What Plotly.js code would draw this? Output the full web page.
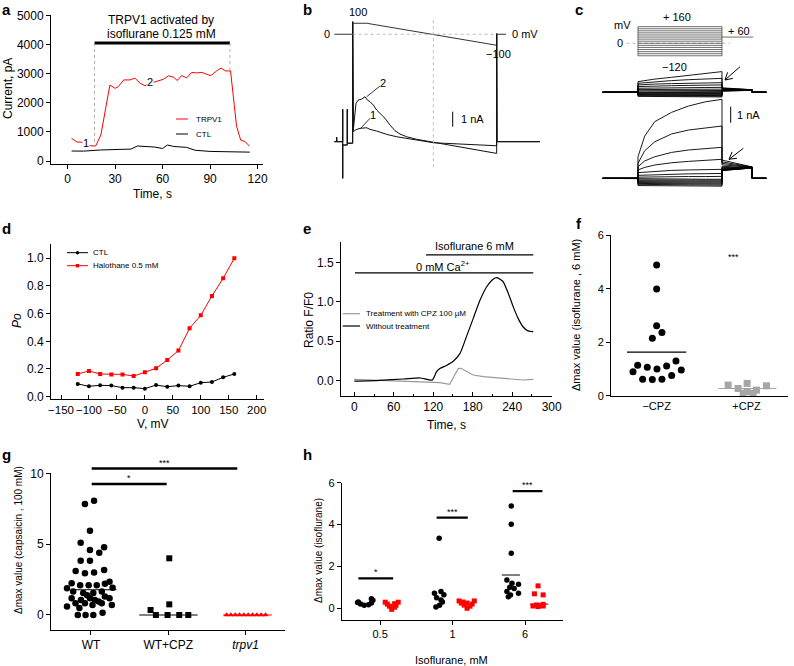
<!DOCTYPE html>
<html>
<head>
<meta charset="utf-8">
<script src="https://cdn.plot.ly/plotly-3.0.1.min.js"></script>
<style>
  body { margin: 0; background: #fff; }
  #fig { width: 794px; height: 666px; }
</style>
</head>
<body>
<div id="fig"></div>
<script>
// ---------- a: current vs time ----------
var aTrpv1T = [2.5, 6, 8.5, 13.7, 17.7, 21, 26.7, 30, 32, 35.5, 39.3, 42.5, 45.7, 48.8, 52.5, 56.2, 60.4, 63.6, 66.7, 69.3, 72, 75.2, 78.4, 81.6, 84.8, 87.9, 90.5, 93.9, 96.9, 99.7, 102.9, 106.7, 109.3, 112, 114.8];
var aTrpv1I = [780, 650, 650, 528, 516, 895, 2615, 2500, 2560, 2790, 2790, 2850, 2680, 2590, 2680, 2730, 2810, 2930, 2890, 2770, 2940, 2860, 3050, 3030, 3050, 2980, 2940, 3090, 3200, 3100, 3100, 1200, 720, 670, 515];
var aCtlT = [2.5, 10, 21, 30, 40, 44, 51, 55, 60, 63, 67, 75, 80.5, 90, 100, 115];
var aCtlI = [344, 340, 380, 400, 410, 516, 493, 480, 430, 550, 500, 470, 370, 330, 320, 305];

// ---------- b: ramp protocol and currents ----------
var bVoltT = [-55, 0, 0, 42, 432, 432, 460];
var bVoltV = [0, 0, 100, 100, -100, 0, 0];
var bPreT = [-55, -48, -48, -48, -30, -30, -30, -30, -16, -16, -16];
var bPreI = [0, 0, 0.29, 0, 0, 2.16, -2.44, -0.22, -0.22, 2.16, -0.1];
var bT1 = [0, 0, 2, 10, 22, 42, 52, 72, 102, 132, 172, 212, 242, 432, 432, 433, 562];
var bI1 = [-0.1, 8.0, 0.67, 0.8, 0.89, 0.93, 0.82, 0.71, 0.49, 0.33, 0.16, 0.04, -0.07, -0.27, 7.2, 0, 0];
var bT2 = [0, 0, 2, 10, 17, 27, 37, 44, 52, 62, 72, 87, 97, 112, 127, 142, 162, 192, 222, 242, 432, 432, 433, 562];
var bI2 = [-0.1, 8.0, 0.78, 2.56, 2.78, 2.84, 3.0, 2.78, 2.67, 2.44, 2.11, 1.78, 1.56, 1.11, 0.73, 0.51, 0.33, 0.16, 0.04, -0.04, -0.78, 7.2, 0, 0];

// ---------- c: step family ----------
var cLevels = [160, 140, 120, 100, 80, 60, 40, 20, 0, -20, -40, -60, -80, -100, -120];
var cStepT = [0, 250];
var cTailT = [250, 343];
var cTailV = 60;
var cZeroT = [-34, 274];
var cT = [0, 20, 50, 100, 150, 200, 250];
var cCtl = [
  [0.71, 0.78, 0.88, 1.00, 1.12, 1.25, 1.38],
  [0.60, 0.64, 0.70, 0.78, 0.84, 0.89, 0.93],
  [0.49, 0.52, 0.55, 0.58, 0.60, 0.62, 0.64],
  [0.38, 0.40, 0.42, 0.44, 0.46, 0.48, 0.49],
  [0.27, 0.28, 0.29, 0.30, 0.31, 0.32, 0.33],
  [0.18, 0.18, 0.19, 0.19, 0.20, 0.20, 0.21],
  [0.10, 0.10, 0.11, 0.11, 0.11, 0.12, 0.12],
  [0.04, 0.04, 0.04, 0.05, 0.05, 0.05, 0.05],
  [-0.02, -0.02, -0.02, -0.02, -0.02, -0.02, -0.02],
  [-0.07, -0.07, -0.07, -0.08, -0.08, -0.08, -0.08],
  [-0.11, -0.11, -0.12, -0.12, -0.12, -0.13, -0.13],
  [-0.15, -0.15, -0.16, -0.16, -0.17, -0.17, -0.17],
  [-0.19, -0.19, -0.20, -0.20, -0.21, -0.21, -0.22],
  [-0.23, -0.23, -0.24, -0.24, -0.25, -0.26, -0.26],
  [-0.27, -0.27, -0.28, -0.29, -0.29, -0.30, -0.31]
];
var cCtlTail0 = [0.30, 0.27, 0.25, 0.22, 0.20, 0.18, 0.17, 0.16, 0.14, 0.13, 0.12, 0.11, 0.10, 0.09, 0.08];
var cCtlTail1 = [0.17, 0.17, 0.16, 0.16, 0.16, 0.15, 0.15, 0.15, 0.15, 0.14, 0.14, 0.14, 0.14, 0.13, 0.13];
var cHal = [
  [1.44, 2.82, 3.78, 4.40, 4.82, 5.10, 5.27],
  [1.00, 1.84, 2.44, 2.96, 3.22, 3.36, 3.49],
  [0.78, 1.16, 1.44, 1.73, 1.89, 1.98, 2.07],
  [0.56, 0.73, 0.89, 1.04, 1.13, 1.20, 1.27],
  [0.38, 0.42, 0.47, 0.53, 0.56, 0.58, 0.60],
  [0.20, 0.22, 0.25, 0.28, 0.30, 0.31, 0.33],
  [0.08, 0.09, 0.10, 0.11, 0.12, 0.12, 0.13],
  [-0.04, -0.04, -0.05, -0.05, -0.05, -0.06, -0.06],
  [-0.10, -0.10, -0.11, -0.11, -0.12, -0.12, -0.12],
  [-0.16, -0.16, -0.17, -0.17, -0.18, -0.18, -0.19],
  [-0.22, -0.22, -0.23, -0.24, -0.24, -0.25, -0.25],
  [-0.28, -0.28, -0.29, -0.30, -0.30, -0.31, -0.32],
  [-0.34, -0.34, -0.35, -0.36, -0.37, -0.37, -0.38],
  [-0.40, -0.41, -0.42, -0.43, -0.43, -0.44, -0.45],
  [-0.48, -0.48, -0.49, -0.50, -0.51, -0.52, -0.52]
];
var cHalTail0 = [1.22, 1.10, 1.00, 0.90, 0.80, 0.72, 0.66, 0.62, 0.60, 0.58, 0.56, 0.55, 0.54, 0.53, 0.52];
var cHalTail1 = [0.76, 0.75, 0.74, 0.74, 0.73, 0.73, 0.72, 0.72, 0.71, 0.71, 0.70, 0.70, 0.70, 0.69, 0.69];

// ---------- d: Po vs V ----------
var dV = [-120, -100, -80, -60, -40, -20, 0, 20, 40, 60, 80, 100, 120, 140, 160];
var dCtl = [0.092, 0.075, 0.082, 0.080, 0.065, 0.065, 0.058, 0.084, 0.072, 0.080, 0.075, 0.101, 0.106, 0.140, 0.164];
var dHalo = [0.164, 0.186, 0.164, 0.161, 0.161, 0.149, 0.176, 0.205, 0.265, 0.333, 0.494, 0.588, 0.728, 0.855, 1.0];

// ---------- e: calcium imaging ----------
var eWithoutT = [0, 39, 75, 100, 118.5, 125, 130, 140, 150, 160.5, 170.6, 180.8, 191, 201, 211, 217, 226, 234, 241.5, 249, 256.7, 264, 272];
var eWithout = [-0.01, 0, 0.017, 0.03, 0.004, 0.11, 0.15, 0.19, 0.24, 0.34, 0.56, 0.79, 1.02, 1.19, 1.29, 1.31, 1.26, 1.11, 0.94, 0.79, 0.68, 0.63, 0.62];
var eCpzT = [0, 39, 84.6, 115, 130, 145, 158, 162, 170.6, 180.8, 196, 216, 236.5, 256.7, 272];
var eCpz = [0.013, 0, -0.01, -0.017, -0.03, -0.05, 0.15, 0.153, 0.11, 0.068, 0.047, 0.034, 0.025, 0.004, 0.013];

// ---------- f: isoflurane 6 mM +/- CPZ ----------
var fCats = ['\u2212CPZ', '+CPZ'];
var fMinusVals = [4.89, 3.99, 2.62, 2.36, 2.15, 1.30, 1.14, 1.06, 1.11, 1.00, 0.96, 0.90, 0.76, 0.62, 0.61, 0.62];
var fMinusOff = [0, 0, 0, 0.059, -0.048, 0.215, -0.211, -0.104, 0.111, 0.004, 0.274, -0.263, 0.167, -0.156, -0.048, 0.059];
var fPlusVals = [0.40, 0.27, 0.46, 0.15, 0.21, 0.37, 0.09, 0.09];
var fPlusOff = [-0.204, -0.093, 0.007, 0.007, 0.111, 0.222, -0.037, 0.074];
var fMeans = [1.63, 0.27];

// ---------- g: capsaicin ----------
var gCats = ['WT', 'WT+CPZ', '<i>trpv1</i>'];
var gWtVals = [8.07, 7.83, 5.95, 5.10, 4.78, 4.59, 4.40, 3.83, 3.83, 3.18, 3.10, 3.00, 2.94, 2.35, 2.24, 2.20, 2.10, 2.10, 2.10, 1.92, 1.88, 1.65, 1.65, 1.55, 1.55, 1.40, 1.30, 1.18, 1.18, 1.18, 1.06, 1.06, 0.95, 0.82, 0.82, 0.82, 0.71, 0.71, 0.59, 0.50, 0.16, 0, 0, 0];
var gWtOff = [0.04, -0.078, -0.013, -0.133, 0.17, -0.013, 0.107, -0.133, -0.013, 0.17, -0.198, 0.04, -0.078, 0.24, -0.25, 0.18, -0.14, -0.03, 0.075, 0.28, -0.31, -0.23, 0.14, -0.1, 0.03, -0.05, 0.18, -0.25, -0.013, 0.24, -0.13, 0.05, 0.1, -0.2, -0.078, 0.14, 0.02, 0.27, -0.31, -0.15, 0.15, -0.17, -0.07, 0.03];
var gCpzVals = [4.0, 0.75, 0.35, 0, 0, 0, 0];
var gCpzOff = [0.013, 0.013, -0.229, -0.16, -0.009, 0.142, 0.259];
var gTrpVals = [0, 0, 0, 0, 0, 0, 0, 0, 0, 0];
var gTrpOff = [-0.246, -0.19, -0.134, -0.078, -0.022, 0.034, 0.09, 0.146, 0.202, 0.258];
var gMeans = [1.78, 0, 0];
var gSigY = [10.33, 9.25];
var gSigText = ['***', '*'];

// ---------- h: isoflurane dose ----------
var hCats = ['0.5', '1', '6'];
var hWtCat = [0, 0, 0, 0, 0, 0, 0, 0, 1, 1, 1, 1, 1, 1, 1, 1, 1, 2, 2, 2, 2, 2, 2, 2, 2, 2, 2, 2, 2];
var hWtVals = [0.28, 0.20, 0.15, 0.17, 0.25, 0.38, 0.46, 0.30, 3.35, 0.72, 0.80, 0.65, 0.50, 0.40, 0.30, 0.14, 0.06, 4.89, 4.02, 2.63, 1.35, 1.20, 1.15, 1.00, 0.95, 0.80, 0.63, 0.72, 0.55];
var hWtOff = [-0.31, -0.27, -0.22, -0.16, -0.12, -0.10, -0.12, -0.30, -0.185, -0.25, -0.16, -0.12, -0.22, -0.16, -0.14, -0.18, -0.23, -0.19, -0.19, -0.19, -0.25, -0.18, -0.09, -0.21, -0.15, -0.25, -0.20, -0.09, -0.23];
var hRedCat = [0, 0, 0, 0, 0, 0, 0, 0, 1, 1, 1, 1, 1, 1, 1, 1, 1, 2, 2, 2, 2, 2, 2, 2, 2, 2];
var hRedVals = [0.29, 0.20, 0.10, -0.05, 0.05, 0.15, 0.29, 0.22, 0.35, 0.25, 0.15, 0.00, 0.10, 0.20, 0.35, 0.25, 0.30, 1.07, 0.69, 0.64, 0.11, 0.08, 0.11, 0.16, 0.19, 0.13];
var hRedOff = [0.07, 0.10, 0.13, 0.16, 0.20, 0.22, 0.25, 0.20, 0.09, 0.12, 0.16, 0.20, 0.24, 0.27, 0.30, 0.20, 0.14, 0.18, 0.13, 0.25, 0.11, 0.18, 0.25, 0.16, 0.25, 0.21];
var hMeanCat = [2];
var hMeanWt = [1.59];
var hMeanRed = [0.2];
var hSigY = [1.43, 4.33, 5.6];
var hSigText = ['*', '***', '***'];

// ---------- helpers ----------
var W = 794, H = 666;
var FONT = 'Liberation Sans, Arial, Helvetica, sans-serif';
function fx(p) { return p / W; }
function fy(p) { return 1 - p / H; }
function xdom(l, r) { return [fx(l), fx(r)]; }
function ydom(t, b) { return [fy(b), fy(t)]; }
function fnt(s) { return {family: FONT, size: s, color: '#000'}; }
function ax(o) {
  var base = {showline: true, linecolor: '#000', linewidth: 1, ticks: 'outside', ticklen: 4,
    tickwidth: 1, tickcolor: '#000', showgrid: false, zeroline: false, fixedrange: true,
    tickangle: 0, tickfont: fnt(11)};
  for (var k in o) base[k] = o[k];
  return base;
}
function hid(o) {
  var base = {visible: false, fixedrange: true, showgrid: false, zeroline: false};
  for (var k in o) base[k] = o[k];
  return base;
}
function note(x, y, text, o) {
  var a = {xref: 'paper', yref: 'paper', x: fx(x), y: fy(y), text: text, showarrow: false,
    xanchor: 'center', yanchor: 'middle', font: fnt(11)};
  for (var k in o) a[k] = o[k];
  return a;
}
function pline(x0, y0, x1, y1, color, width, dash) {
  return {type: 'line', xref: 'paper', yref: 'paper', x0: fx(x0), y0: fy(y0), x1: fx(x1), y1: fy(y1),
    line: {color: color || '#000', width: width || 1, dash: dash || 'solid'}};
}
function dline(xr, yr, x0, y0, x1, y1, color, width, dash) {
  return {type: 'line', xref: xr, yref: yr, x0: x0, y0: y0, x1: x1, y1: y1,
    line: {color: color || '#000', width: width || 1, dash: dash || 'solid'}};
}
// open arrow drawn as a path, tail -> head, in page pixels
function arrow(tx, ty, hx, hy) {
  var dx = hx - tx, dy = hy - ty, L = Math.sqrt(dx * dx + dy * dy);
  var ux = dx / L, uy = dy / L, px = -uy, py = ux;
  var w1x = hx - 7 * ux + 4 * px, w1y = hy - 7 * uy + 4 * py;
  var w2x = hx - 7 * ux - 4 * px, w2y = hy - 7 * uy - 4 * py;
  var P = function (x, y) { return fx(x) + ',' + fy(y); };
  return {type: 'path', xref: 'paper', yref: 'paper', line: {color: '#000', width: 1},
    path: 'M' + P(tx, ty) + 'L' + P(hx, hy) + 'M' + P(w1x, w1y) + 'L' + P(hx, hy) + 'L' + P(w2x, w2y)};
}
function join(listX, listY) {
  var X = [], Y = [];
  for (var i = 0; i < listX.length; i++) {
    X = X.concat(listX[i], [null]);
    Y = Y.concat(listY[i], [null]);
  }
  return {x: X, y: Y};
}
function sweeps(rows, tail0, tail1) {
  var xs = [], ys = [];
  rows.forEach(function (r, i) {
    xs.push([-105, 0].concat(cT, [250, 340, 340, 382]));
    ys.push([0, 0].concat(r, [tail0[i], tail1[i], 0, 0]));
  });
  return join(xs, ys);
}
function shift(cat, off) { return off.map(function (o, i) { return (Array.isArray(cat) ? cat[i] : cat) + o; }); }

var traces = [];
var shapes = [];
var notes = [];

// ---------- a ----------
traces.push({x: aCtlT, y: aCtlI, xaxis: 'x', yaxis: 'y', mode: 'lines', line: {color: '#000', width: 1}});
traces.push({x: aTrpv1T, y: aTrpv1I, xaxis: 'x', yaxis: 'y', mode: 'lines', line: {color: '#ff0000', width: 1}});
shapes.push(dline('x', 'y', 17, 4060, 102.5, 4060, '#000', 3));
shapes.push(dline('x', 'y', 17, 4060, 17, 527, '#999', 0.8, 'dot'));
shapes.push(dline('x', 'y', 102.5, 4060, 102.5, 3090, '#999', 0.8, 'dot'));
notes.push(note(161, 20, 'TRPV1 activated by', {font: fnt(12)}));
notes.push(note(161, 34, 'isoflurane 0.125 mM', {font: fnt(12)}));
notes.push(note(85.5, 143, '1', {bgcolor: '#fff', borderpad: 0}));
notes.push(note(150, 82, '2', {bgcolor: '#fff', borderpad: 0}));
shapes.push(pline(176, 119, 188, 119, '#ff0000', 1));
shapes.push(pline(176, 134, 188, 134, '#000', 1));
notes.push(note(194, 119, 'TRPV1', {xanchor: 'left', font: fnt(8)}));
notes.push(note(194, 134, 'CTL', {xanchor: 'left', font: fnt(8)}));
notes.push(note(8, 89, 'Current, pA', {textangle: -90, font: fnt(12)}));
notes.push(note(152, 194, 'Time, s', {font: fnt(12)}));

// ---------- b ----------
traces.push({x: bVoltT, y: bVoltV, xaxis: 'x2', yaxis: 'y2', mode: 'lines', line: {color: '#333', width: 1}});
traces.push({x: bPreT.concat(bT1), y: bPreI.concat(bI1), xaxis: 'x2', yaxis: 'y3', mode: 'lines', line: {color: '#111', width: 1}});
traces.push({x: bPreT.concat(bT2), y: bPreI.concat(bI2), xaxis: 'x2', yaxis: 'y3', mode: 'lines', line: {color: '#111', width: 1}});
shapes.push(dline('x2', 'y2', 0, 0, 432, 0, '#aaa', 0.8, 'dot'));
shapes.push(dline('x2', 'y3', 242, 8.1, 242, -1.75, '#aaa', 0.8, 'dot'));
shapes.push(pline(452.7, 111.7, 452.7, 126.7, '#000', 1));
shapes.push(pline(380, 86, 366.7, 96.7, '#000', 0.8));
shapes.push(pline(370, 118.3, 360.7, 128.3, '#000', 0.8));
notes.push(note(459, 119, '1 nA', {xanchor: 'left'}));
notes.push(note(358, 12, '100'));
notes.push(note(327, 34, '0'));
notes.push(note(510, 34, '0 mV', {xanchor: 'left'}));
notes.push(note(498, 54, '\u2212100'));
notes.push(note(383.3, 82.7, '2'));
notes.push(note(372.7, 115, '1'));

// ---------- c ----------
var cvX = [], cvY = [];
cLevels.forEach(function (v) { cvX.push(cStepT[0], cStepT[1], null); cvY.push(v, v, null); });
var cMax = Math.max.apply(null, cLevels), cMin = Math.min.apply(null, cLevels);
cvX.push(cStepT[0], cStepT[0], null, cStepT[1], cStepT[1], null, cTailT[0], cTailT[1]);
cvY.push(cMin, cMax, null, cMin, cMax, null, cTailV, cTailV);
traces.push({x: cZeroT, y: [0, 0], xaxis: 'x3', yaxis: 'y4', mode: 'lines', line: {color: '#aaa', width: 0.8, dash: 'dot'}});
traces.push({x: cvX, y: cvY, xaxis: 'x3', yaxis: 'y4', mode: 'lines', line: {color: '#333', width: 0.7}});
var cA = sweeps(cCtl, cCtlTail0, cCtlTail1);
traces.push({x: cA.x, y: cA.y, xaxis: 'x3', yaxis: 'y5', mode: 'lines', connectgaps: false, line: {color: '#000', width: 0.9}});
var cB = sweeps(cHal, cHalTail0, cHalTail1);
traces.push({x: cB.x, y: cB.y, xaxis: 'x3', yaxis: 'y6', mode: 'lines', connectgaps: false, line: {color: '#000', width: 0.9}});
notes.push(note(622, 25, 'mV'));
notes.push(note(619.5, 43, '0'));
notes.push(note(677, 17, '+ 160'));
notes.push(note(739, 31, '+ 60'));
notes.push(note(674, 67, '\u2212120'));
shapes.push(pline(730.7, 106.7, 730.7, 122.7, '#000', 1));
notes.push(note(735, 115, '1 nA', {xanchor: 'left'}));
shapes.push(arrow(740, 66.7, 725, 80));
shapes.push(arrow(743.3, 148.3, 729, 159.3));

// ---------- d ----------
traces.push({x: dV, y: dCtl, xaxis: 'x4', yaxis: 'y7', mode: 'lines+markers', line: {color: '#000', width: 1},
  marker: {symbol: 'circle', size: 4, color: '#000'}});
traces.push({x: dV, y: dHalo, xaxis: 'x4', yaxis: 'y7', mode: 'lines+markers', line: {color: '#ff0000', width: 1},
  marker: {symbol: 'square', size: 4, color: '#ff0000'}});
shapes.push(pline(67, 252.7, 88, 252.7, '#000', 1));
shapes.push({type: 'circle', xref: 'paper', yref: 'paper', x0: fx(75.8), x1: fx(79.2), y0: fy(254.4), y1: fy(251), fillcolor: '#000', line: {width: 0}});
shapes.push(pline(67, 265.7, 88, 265.7, '#ff0000', 1));
shapes.push({type: 'rect', xref: 'paper', yref: 'paper', x0: fx(75.8), x1: fx(79.2), y0: fy(267.4), y1: fy(264), fillcolor: '#ff0000', line: {width: 0}});
notes.push(note(91, 252.7, 'CTL', {xanchor: 'left', font: fnt(8)}));
notes.push(note(91, 265.7, 'Halothane 0.5 mM', {xanchor: 'left', font: fnt(8)}));
notes.push(note(17, 321, '<i>Po</i>', {textangle: -90, font: fnt(12)}));
notes.push(note(153, 424, 'V, mV', {font: fnt(12)}));

// ---------- e ----------
traces.push({x: eCpzT, y: eCpz, xaxis: 'x5', yaxis: 'y8', mode: 'lines', line: {color: '#999', width: 1.2}});
traces.push({x: eWithoutT, y: eWithout, xaxis: 'x5', yaxis: 'y8', mode: 'lines', line: {color: '#000', width: 1.2, shape: 'spline', smoothing: 0.6}});
shapes.push(dline('x5', 'y8', 109, 1.6, 272, 1.6, '#000', 1.2));
shapes.push(dline('x5', 'y8', 1, 1.37, 272, 1.37, '#000', 1.2));
notes.push({xref: 'x5', yref: 'y8', x: 182, y: 1.71, text: 'Isoflurane 6 mM', showarrow: false, font: fnt(11)});
notes.push({xref: 'x5', yref: 'y8', x: 135, y: 1.46, text: '0 mM Ca<sup>2+</sup>', showarrow: false, font: fnt(11)});
shapes.push(pline(342.7, 313.7, 360, 313.7, '#999', 1.2));
shapes.push(pline(342.7, 326, 360, 326, '#000', 1.2));
notes.push(note(364, 313.7, 'Treatment with CPZ 100 \u00b5M', {xanchor: 'left', font: fnt(8)}));
notes.push(note(364, 326, 'Without treatment', {xanchor: 'left', font: fnt(8)}));
notes.push(note(309, 320, 'Ratio F/F0', {textangle: -90, font: fnt(12)}));
notes.push(note(446, 425, 'Time, s', {font: fnt(12)}));

// ---------- f ----------
traces.push({x: shift(0, fMinusOff), y: fMinusVals, xaxis: 'x6', yaxis: 'y9', mode: 'markers', cliponaxis: false,
  marker: {symbol: 'circle', size: 7, color: '#000'}});
traces.push({x: shift(1, fPlusOff), y: fPlusVals, xaxis: 'x6', yaxis: 'y9', mode: 'markers', cliponaxis: false,
  marker: {symbol: 'square', size: 7, color: '#a6a6a6'}});
shapes.push(dline('x6', 'y9', -0.33, fMeans[0], 0.33, fMeans[0], '#000', 1.2));
shapes.push(dline('x6', 'y9', 1 - 0.314, fMeans[1], 1.333, fMeans[1], '#a6a6a6', 1.2));
notes.push({xref: 'x6', yref: 'y9', x: 0.86, y: 5.2, text: '***', showarrow: false, font: fnt(9)});
notes.push(note(576, 315, '\u0394max value (isoflurane , 6 mM)', {textangle: -90, font: fnt(11)}));

// ---------- g ----------
traces.push({x: shift(0, gWtOff), y: gWtVals, xaxis: 'x7', yaxis: 'y10', mode: 'markers', cliponaxis: false,
  marker: {symbol: 'circle', size: 6.5, color: '#000'}});
traces.push({x: shift(1, gCpzOff), y: gCpzVals, xaxis: 'x7', yaxis: 'y10', mode: 'markers', cliponaxis: false,
  marker: {symbol: 'square', size: 6, color: '#000'}});
traces.push({x: shift(2, gTrpOff), y: gTrpVals, xaxis: 'x7', yaxis: 'y10', mode: 'markers', cliponaxis: false,
  marker: {symbol: 'triangle-up', size: 5.5, color: '#ff0000'}});
shapes.push(dline('x7', 'y10', -0.25, gMeans[0], 0.33, gMeans[0], '#000', 1.2));
shapes.push(dline('x7', 'y10', 1 - 0.375, gMeans[1], 1.38, gMeans[1], '#000', 1.2));
shapes.push(dline('x7', 'y10', 2 - 0.29, gMeans[2], 2.34, gMeans[2], '#ff0000', 1.2));
// significance bars reach above the axis top, so place them on the page (same scale: 14.17 px per unit, 0 at 615 px)
var gSigX0 = [91.7, 91.7], gSigX1 = [237.3, 166.7];
gSigY.forEach(function (v, i) {
  var yp = 615 - v * 14.17;
  shapes.push(pline(gSigX0[i], yp, gSigX1[i], yp, '#000', 2.5));
  notes.push(note((gSigX0[i] + gSigX1[i]) / 2, yp - 5.5, gSigText[i], {font: fnt(9)}));
});
notes.push(note(18, 540, '\u0394max value (capsaicin , 100 mM)', {textangle: -90, font: fnt(10)}));

// ---------- h ----------
traces.push({x: shift(hWtCat, hWtOff), y: hWtVals, xaxis: 'x8', yaxis: 'y11', mode: 'markers', cliponaxis: false,
  marker: {symbol: 'circle', size: 5.5, color: '#000'}});
traces.push({x: shift(hRedCat, hRedOff), y: hRedVals, xaxis: 'x8', yaxis: 'y11', mode: 'markers', cliponaxis: false,
  marker: {symbol: 'square', size: 5, color: '#ff0000'}});
hMeanCat.forEach(function (c, i) {
  shapes.push(dline('x8', 'y11', c - 0.32, hMeanWt[i], c - 0.07, hMeanWt[i], '#000', 1.2));
  shapes.push(dline('x8', 'y11', c + 0.07, hMeanRed[i], c + 0.32, hMeanRed[i], '#ff0000', 1.2));
});
var hSigL = [-0.3, -0.22, -0.17], hSigR = [0.18, 0.21, 0.24];
hSigY.forEach(function (yv, i) {
  shapes.push(dline('x8', 'y11', i + hSigL[i], yv, i + hSigR[i], yv, '#000', 2.2));
  notes.push({xref: 'x8', yref: 'y11', x: i + (hSigL[i] + hSigR[i]) / 2, y: yv + 0.28, text: hSigText[i], showarrow: false,
    font: fnt(9)});
});
notes.push(note(318, 551, '\u0394max value (isoflurane)', {textangle: -90, font: fnt(10)}));
notes.push(note(452, 660, 'Isoflurane, mM', {font: fnt(11)}));

// ---------- panel letters ----------
[['a', 6, 10], ['b', 307, 10], ['c', 579, 10], ['d', 6, 228], ['e', 307, 228], ['f', 579, 224], ['g', 6, 454], ['h', 307, 454]].forEach(function (p) {
  notes.push(note(p[1], p[2], '<b>' + p[0] + '</b>', {font: fnt(15)}));
});

var layout = {
  width: W, height: H,
  margin: {l: 0, r: 0, t: 0, b: 0},
  paper_bgcolor: '#fff', plot_bgcolor: 'rgba(0,0,0,0)',
  showlegend: false,
  font: fnt(11),
  xaxis: ax({domain: xdom(51, 263), range: [-10.5, 123.4], anchor: 'y', tick0: 0, dtick: 30, tickfont: fnt(12)}),
  yaxis: ax({domain: ydom(15, 164), range: [-103, 5024], anchor: 'x', tick0: 0, dtick: 1000, tickfont: fnt(12)}),
  xaxis2: hid({domain: xdom(320, 540), range: [-98, 562], anchor: 'y2'}),
  yaxis2: hid({domain: ydom(5, 60), range: [-234, 266], anchor: 'x2'}),
  yaxis3: hid({domain: ydom(15, 190), range: [-3.22, 8.447], anchor: 'x2'}),
  xaxis3: hid({domain: xdom(598, 790), range: [-119, 452.4], anchor: 'y4'}),
  yaxis4: hid({domain: ydom(15, 65), range: [-208.7, 272], anchor: 'x3'}),
  yaxis5: hid({domain: ydom(62, 125), range: [-2.18, 2.02], anchor: 'x3'}),
  yaxis6: hid({domain: ydom(90, 195), range: [-1.11, 5.89], anchor: 'x3'}),
  xaxis4: ax({domain: xdom(51, 264), range: [-167.9, 213.1], anchor: 'y7', tick0: -150, dtick: 50, ticks: 'inside', tickfont: fnt(11.5)}),
  yaxis7: ax({domain: ydom(244.3, 399.3), range: [-0.019, 1.101], anchor: 'x4', tick0: 0, dtick: 0.2, tickformat: '.1f', tickfont: fnt(12)}),
  xaxis5: ax({domain: xdom(341, 552), range: [-20.2, 300.5], anchor: 'y8', tick0: 0, dtick: 60, ticks: 'inside', tickfont: fnt(12),
    minor: {dtick: 30, ticks: 'inside', ticklen: 2, tickcolor: '#000'}}),
  yaxis8: ax({domain: ydom(242.3, 395.7), range: [-0.196, 1.76], anchor: 'x5', tick0: 0, dtick: 0.5, tickformat: '.1f', tickfont: fnt(12)}),
  xaxis6: ax({domain: xdom(611, 788), range: [-0.508, 1.462], anchor: 'y9', tickvals: [0, 1], ticktext: fCats, ticks: ''}),
  yaxis9: ax({domain: ydom(235.3, 395.7), range: [0, 6], anchor: 'x6', tick0: 0, dtick: 2}),
  xaxis7: ax({domain: xdom(51, 285), range: [-0.517, 2.51], anchor: 'y10', tickvals: [0, 1, 2], ticktext: gCats, tickfont: fnt(12)}),
  yaxis10: ax({domain: ydom(473.3, 630), range: [-1.06, 10], anchor: 'x7', tick0: 0, dtick: 5, tickfont: fnt(12)}),
  xaxis8: ax({domain: xdom(341.7, 562.7), range: [-0.53, 2.52], anchor: 'y11', tickvals: [0, 1, 2], ticktext: hCats}),
  yaxis11: ax({domain: ydom(482.7, 620), range: [-0.56, 6], anchor: 'x8', tick0: 0, dtick: 2}),
  shapes: shapes,
  annotations: notes
};

Plotly.newPlot('fig', traces, layout, {staticPlot: true, displayModeBar: false});
</script>
</body>
</html>
